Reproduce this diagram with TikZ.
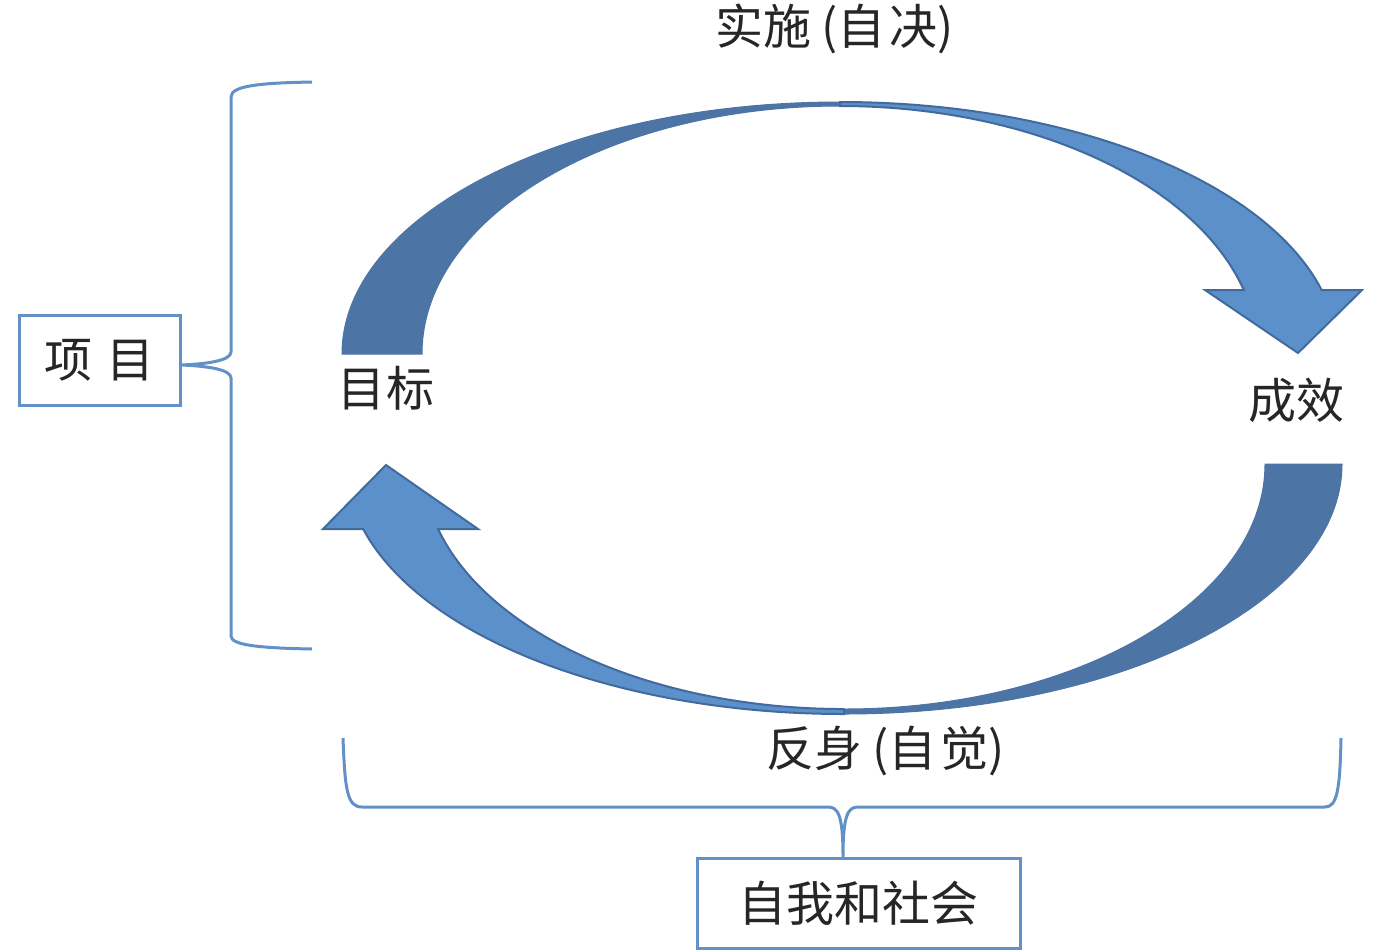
\documentclass[tikz,border=0pt]{standalone}
\usepackage{fontspec}
\newfontfamily\cjk{Noto Sans CJK SC}
\definecolor{arrowdark}{RGB}{76,117,166}
\definecolor{arrowlight}{RGB}{91,144,203}
\definecolor{arrowline}{RGB}{66,106,156}
\definecolor{bracecol}{RGB}{98,145,200}
\tikzset{
  lbl/.style={inner sep=0pt, font=\cjk\fontsize{48}{52}\selectfont, text=black!85},
  boxnode/.style={draw=bracecol, line width=3pt, inner sep=0pt, font=\cjk\fontsize{48}{52}\selectfont, text=black!85},
  bracepath/.style={draw=bracecol, line width=3pt, line join=round},
  darkpart/.style={fill=arrowdark, draw=arrowdark, line width=1pt},
  lightpart/.style={fill=arrowlight, draw=arrowline, line width=2pt, line join=miter},
}
\begin{document}
\begin{tikzpicture}[x=1pt,y=1pt]
\useasboundingbox (0,0) rectangle (1378,-951);

% ---------- top curved arrow (implementation) ----------
\fill[darkpart] (342,-354) arc[start angle=180, end angle=90, x radius=498, y radius=252]
  -- (840,-106) arc[start angle=90, end angle=180, x radius=418, y radius=248] -- cycle;
\path[lightpart] (840,-102) arc[start angle=90, end angle=14.71, x radius=498, y radius=252]
  -- (1362,-290) -- (1298,-353) -- (1205,-290) -- (1243.8,-290)
  arc[start angle=14.96, end angle=90, x radius=418, y radius=248] -- cycle;

% ---------- bottom curved arrow (reflection) ----------
\fill[darkpart] (1342,-464) arc[start angle=0, end angle=-90, x radius=498, y radius=250]
  -- (844,-709) arc[start angle=-90, end angle=0, x radius=421, y radius=245] -- cycle;
\path[lightpart] (844,-714) arc[start angle=270, end angle=195.07, x radius=498, y radius=250]
  -- (323,-529) -- (386,-465) -- (478,-529) -- (438.1,-529)
  arc[start angle=195.38, end angle=270, x radius=421, y radius=245] -- cycle;

% ---------- labels ----------
\node[lbl] (impl) at (835,-29) {实施\hspace{10pt}(自\hspace{4pt}决)};
\node[lbl] (goal) at (386,-388) {目\hspace{2pt}标};
\node[lbl] (res) at (1296,-400) {成效};
\node[lbl] (refl) at (886,-751) {反身\hspace{10pt}(自\hspace{4pt}觉)};

% ---------- boxes ----------
\node[boxnode, minimum width=161, minimum height=90] (proj) at (99.5,-360) {项\hspace{14pt}目};
\node[boxnode, minimum width=323, minimum height=90] (soc) at (858.5,-903) {自我和社会};

% ---------- braces ----------
\coordinate (lt) at (312,-82);
\coordinate (lb) at (312,-649);
\coordinate (ltip) at (proj.east |- 0,-365);
\draw[bracepath] (lt) .. controls (258,-83) and (231,-86) .. (231,-97)
  -- (231,-352) .. controls (231,-361) and (205,-364) .. (ltip)
  .. controls (205,-366) and (231,-369) .. (231,-378)
  -- (231,-636) .. controls (231,-645) and (258,-648) .. (lb);

\coordinate (bl) at (343,-738);
\coordinate (br) at (1341,-738);
\coordinate (btip) at (843,0 |- soc.north);
\draw[bracepath] (bl) .. controls (345,-790) and (347,-807) .. (362,-807)
  -- (828,-807) .. controls (838,-807) and (843,-815) .. (btip)
  .. controls (843,-815) and (848,-807) .. (858,-807)
  -- (1325,-807) .. controls (1337,-807) and (1340,-790) .. (br);
\end{tikzpicture}
\end{document}
